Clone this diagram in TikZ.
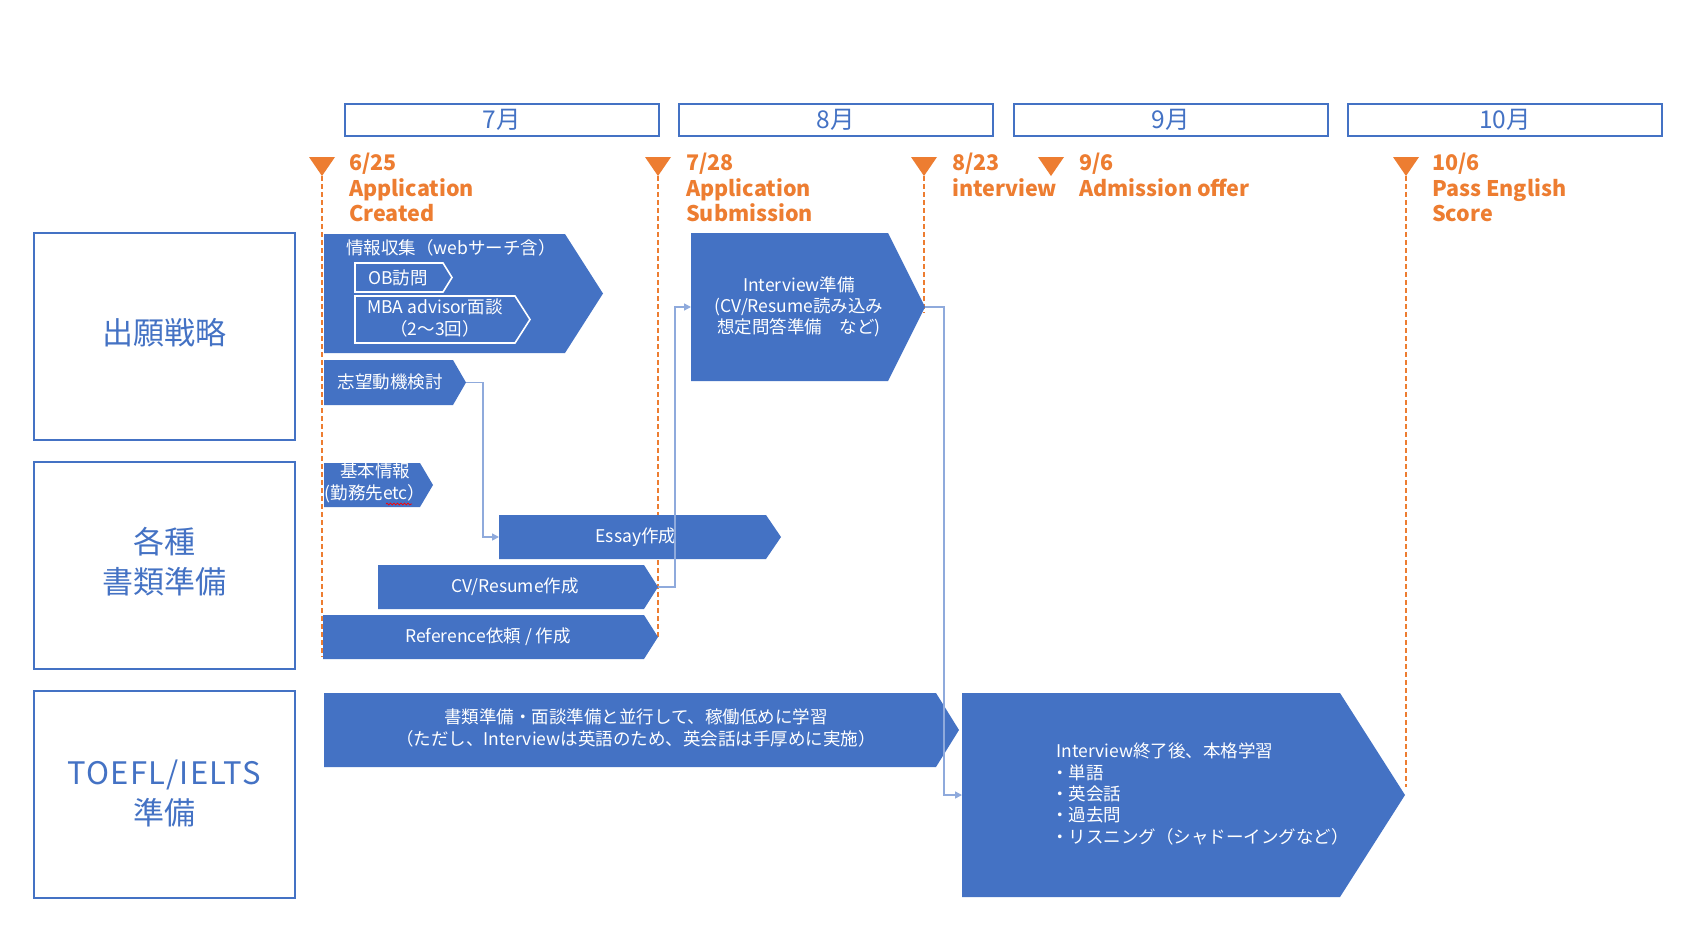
\documentclass[tikz,border=0pt]{standalone}
\usepackage{fontspec}
\setmainfont{Noto Sans CJK JP}
\usetikzlibrary{arrows.meta,decorations.pathmorphing}
\definecolor{mblue}{HTML}{4472C4}
\definecolor{lblue}{HTML}{8FAADC}
\definecolor{morange}{HTML}{ED7D31}
\newcommand{\chevshape}[7]{%
  \path[#7] (#2,#3) -- (#4,#3) -- (#5,{(#3+#6)/2}) -- (#4,#6) -- (#2,#6) -- cycle;
  \coordinate (#1-tip) at (#5,{(#3+#6)/2});
  \coordinate (#1-w) at (#2,{(#3+#6)/2});
}
\tikzset{
  monthbox/.style={draw=mblue, line width=2pt, minimum width=314pt, minimum height=32pt, inner sep=0pt,
    text=mblue, font=\fontsize{24.5}{28}\selectfont},
  lanebox/.style={draw=mblue, line width=2pt, minimum width=261pt, minimum height=207pt, inner sep=0pt},
  lanetext/.style={text=mblue, align=center, inner sep=0pt, font=\fontsize{31}{40}\selectfont},
  olabel/.style={text=morange, align=left, inner sep=0pt, anchor=north west,
    font=\fontsize{21.5}{25.4}\selectfont\bfseries},
  stext/.style={text=white, align=center, inner sep=0pt, font=\fontsize{17.5}{21.3}\selectfont},
  bluefill/.style={fill=mblue},
  outl/.style={draw=white, line width=1.6pt, fill=mblue},
  conn/.style={draw=lblue, line width=1.5pt, -{Triangle[length=7pt,width=7pt]}},
  dline/.style={draw=morange, line width=1.1pt, dash pattern=on 5pt off 3pt},
  tri/.style={fill=morange}
}
\begin{document}
\begin{tikzpicture}[x=1pt,y=-1pt]
\useasboundingbox (0,0) rectangle (1695,945);
\fill[white] (0,0) rectangle (1695,945);

% month headers
\node[monthbox] (m7) at (502,119.5) {\raisebox{-2pt}{7月}};
\node[monthbox] (m8) at (836,119.5) {\raisebox{-2pt}{8月}};
\node[monthbox] (m9) at (1171,119.5) {\raisebox{-2pt}{9月}};
\node[monthbox] (m10) at (1505,119.5) {\raisebox{-2pt}{10月}};

% lane boxes
\node[lanebox] (l1) at (164,336) {};
\node[lanebox] (l2) at (164,565.5) {};
\node[lanebox] (l3) at (164,794.5) {};
\node[lanetext] (l1t) at (164,332.8) {出願戦略};
\node[lanetext] (l2t) at (164,561.2) {各種\\書類準備};
\node[lanetext] (l3t) at (164,793.2) {{\addfontfeatures{LetterSpace=4}TOEFL/IELTS}\\準備};

% milestone markers
\coordinate (t1) at (322,176);
\coordinate (t2) at (658,176);
\coordinate (t3) at (924,176);
\coordinate (t4) at (1051,176);
\coordinate (t5) at (1406,176);
\foreach \c in {t1,t2,t3,t4,t5}{
  \fill[tri] (\c) ++(-13,-19) -- ++(26,0) -- (\c) -- cycle;
}
\draw[dline] (t1) -- (322,657);
\draw[dline] (t2) -- (658,637);
\draw[dline] (t3) -- (924,313);
\draw[dline] (t5) -- (1406,787);

\node[olabel] (d1) at (349,153) {6/25\\Application\\Created};
\node[olabel] (d2) at (686,153) {7/28\\Application\\Submission};
\node[olabel] (d3) at (952,153) {8/23\\interview};
\node[olabel] (d4) at (1079,153) {9/6\\Admission offer};
\node[olabel] (d5) at (1432,153) {10/6\\Pass English\\Score};

% row 1
\chevshape{info}{324}{234}{565}{603}{353}{bluefill}
\node[stext, anchor=west] (tinfo) at (346,248) {情報収集（webサーチ含）};
\chevshape{ob}{355}{263}{443}{452}{292}{outl}
\node[stext] (tob) at (398,277.5) {OB訪問};
\chevshape{mba}{355}{296}{515}{530}{343}{outl}
\node[stext] (tmba) at (435,318) {MBA advisor面談\\（2～3回）};
\chevshape{motiv}{324}{360}{453}{466}{405}{bluefill}
\node[stext] (tmotiv) at (390,382) {志望動機検討};
\chevshape{iv}{691}{233}{888}{925}{381}{bluefill}
\node[stext] (tiv) at (799,307) {Interview準備\\(CV/Resume読み込み\\想定問答準備　など)};

% row 2
\chevshape{basic}{324}{463}{420}{433}{507}{bluefill}
\node[stext] (tbasic) at (375,483) {基本情報\\(勤務先etc）};
\draw[red, line width=0.7pt, decorate, decoration={snake, amplitude=0.9pt, segment length=3.5pt}]
  (386,504) -- (412,504);
\chevshape{essay}{499}{515}{766}{781}{559}{bluefill}
\node[stext] (tessay) at (636,537) {Essay作成};
\chevshape{cv}{378}{565}{644}{658}{609}{bluefill}
\node[stext] (tcv) at (515,587) {CV/Resume作成};
\chevshape{ref}{323}{615}{644}{658}{659}{bluefill}
\node[stext] (tref) at (488,637) {Reference依頼 / 作成};

% row 3
\chevshape{toefl}{324}{693}{936}{959}{767}{bluefill}
\node[stext] (ttoefl) at (636,728) {書類準備・面談準備と並行して、稼働低めに学習\\（ただし、Interviewは英語のため、英会話は手厚めに実施）};
\chevshape{big}{962}{693}{1340}{1405}{897}{bluefill}
\node[stext, align=left, anchor=west] (tbig) at (1056,794) {Interview終了後、本格学習\\\hspace*{-5pt}・単語\\\hspace*{-5pt}・英会話\\\hspace*{-5pt}・過去問\\\hspace*{-5pt}・リスニング（シャドーイングなど）};

% connectors
\draw[conn] (motiv-tip) -- ++(17,0) |- (essay-w);
\draw[conn] (cv-tip) -- ++(17,0) |- (iv-w);
\draw[conn] (iv-tip) -- ++(19,0) |- (big-w);
\end{tikzpicture}
\end{document}
